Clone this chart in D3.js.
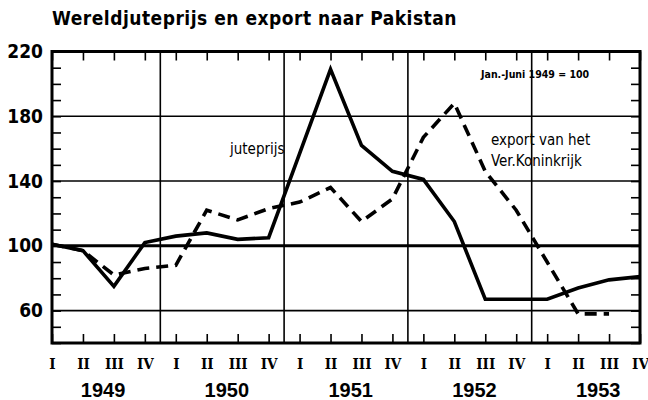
<!DOCTYPE html>
<html>
<head>
<meta charset="utf-8">
<script src="https://cdn.jsdelivr.net/npm/d3@7"></script>
<style>
  body { margin: 0; background: #fff; }
  svg { display: block; }
  .axis path { display: none; }
  .axis line { stroke: #000; stroke-width: 1.6; }
</style>
</head>
<body>
<div id="chart"></div>
<script>
// quarters 1949 I .. 1953 IV
const years = ["1949", "1950", "1951", "1952", "1953"];
const quarterLabels = ["I", "II", "III", "IV"];
const juteprijs = [101, 97, 75, 102, 106, 108, 104, 105, 157, 209, 162, 146, 141, 115, 67, 67, 67, 74, 79, 81];
const exportVK = [101, 97, 82, 86, 88, 122, 116, 123, 127, 136, 115, 129, 167, 188, 146, 122, 90, 58, 58, null];
const yTickLabels = [60, 100, 140, 180, 220];
const gridValues = [60, 100, 140, 180];

const width = 648, height = 400;
const margin = { top: 51.5, right: 8, bottom: 57, left: 52 };

const svg = d3.select("#chart")
    .append("svg")
    .attr("width", width)
    .attr("height", height);

const quarters = d3.range(juteprijs.length);

const x = d3.scaleLinear()
    .domain([0, quarters.length - 1])
    .range([margin.left, width - margin.right]);

const y = d3.scaleLinear()
    .domain([40, 220])
    .range([height - margin.bottom, margin.top]);

const font = "'DejaVu Sans Condensed', 'DejaVu Sans', sans-serif";

// title
svg.append("text")
    .attr("x", 52)
    .attr("y", 25)
    .attr("font-family", font)
    .attr("font-weight", "bold")
    .attr("font-size", 19)
    .attr("letter-spacing", 0.5)
    .text("Wereldjuteprijs en export naar Pakistan");

// grid
svg.append("g")
    .selectAll("line")
    .data(gridValues)
    .enter()
    .append("line")
    .attr("x1", x.range()[0])
    .attr("x2", x.range()[1])
    .attr("y1", (d) => y(d))
    .attr("y2", (d) => y(d))
    .attr("stroke", "#000")
    .attr("stroke-width", (d) => (d === 100 ? 3 : 1.6));

svg.append("g")
    .selectAll("line")
    .data([3.5, 7.5, 11.5, 15.5])
    .enter()
    .append("line")
    .attr("x1", (d) => x(d))
    .attr("x2", (d) => x(d))
    .attr("y1", y.range()[1])
    .attr("y2", y.range()[0])
    .attr("stroke", "#000")
    .attr("stroke-width", 1.6);

// axes (ticks point inward)
const minorY = d3.range(40, 221, 10);

svg.append("g")
    .attr("class", "axis")
    .attr("transform", `translate(0,${y(40)})`)
    .call(d3.axisBottom(x)
        .tickValues(quarters)
        .tickSizeInner(-9)
        .tickSizeOuter(0)
        .tickPadding(15)
        .tickFormat((i) => quarterLabels[i % 4]))
    .selectAll("text")
    .attr("font-family", "'DejaVu Serif Condensed', 'DejaVu Serif', serif")
    .attr("font-weight", "bold")
    .attr("font-size", 15)
    .attr("fill", "#000");

svg.append("g")
    .attr("class", "axis")
    .attr("transform", `translate(0,${y(220)})`)
    .call(d3.axisTop(x)
        .tickValues(quarters)
        .tickSizeInner(-9)
        .tickSizeOuter(0)
        .tickFormat(""));

svg.append("g")
    .attr("class", "axis")
    .attr("transform", `translate(${x(0)},0)`)
    .call(d3.axisLeft(y)
        .tickValues(minorY)
        .tickSizeInner(-9)
        .tickSizeOuter(0)
        .tickPadding(9)
        .tickFormat((d) => (yTickLabels.includes(d) ? d : "")))
    .selectAll("text")
    .attr("font-family", font)
    .attr("font-weight", "bold")
    .attr("font-size", 19)
    .attr("fill", "#000");

svg.append("g")
    .attr("class", "axis")
    .attr("transform", `translate(${x(19)},0)`)
    .call(d3.axisRight(y)
        .tickValues(minorY)
        .tickSizeInner(-9)
        .tickSizeOuter(0)
        .tickFormat(""));

// year labels
svg.append("g")
    .selectAll("text")
    .data(years)
    .enter()
    .append("text")
    .attr("x", (d, i) => x(i * 4 + 1.65))
    .attr("y", 397)
    .attr("text-anchor", "middle")
    .attr("font-family", "'Liberation Sans', Arial, sans-serif")
    .attr("font-weight", "bold")
    .attr("font-size", 20)
    .text((d) => d);

// frame
svg.append("rect")
    .attr("x", x(0))
    .attr("y", y(220))
    .attr("width", x(19) - x(0))
    .attr("height", y(40) - y(220))
    .attr("fill", "none")
    .attr("stroke", "#000")
    .attr("stroke-width", 3);

// lines
const line = d3.line()
    .defined((d) => d != null)
    .x((d, i) => x(i))
    .y((d) => y(d));

svg.append("path")
    .datum(exportVK)
    .attr("d", line)
    .attr("fill", "none")
    .attr("stroke", "#000")
    .attr("stroke-width", 3.6)
    .attr("stroke-dasharray", "12,7");

svg.append("path")
    .datum(juteprijs)
    .attr("d", line)
    .attr("fill", "none")
    .attr("stroke", "#000")
    .attr("stroke-width", 3.6)
    .attr("stroke-linejoin", "miter");

// annotations
const note = svg.append("g")
    .attr("font-family", font)
    .attr("fill", "#000");

note.append("text")
    .attr("x", 481)
    .attr("y", 78)
    .attr("font-weight", "bold")
    .attr("font-size", 10.5)
    .text("Jan.-Juni 1949 = 100");

note.append("text")
    .attr("x", 230)
    .attr("y", 154)
    .attr("font-size", 15)
    .text("juteprijs");

note.append("text")
    .attr("x", 491)
    .attr("y", 145)
    .attr("font-size", 15)
    .text("export van het");

note.append("text")
    .attr("x", 491)
    .attr("y", 166)
    .attr("font-size", 15)
    .text("Ver.Koninkrijk");
</script>
</body>
</html>
